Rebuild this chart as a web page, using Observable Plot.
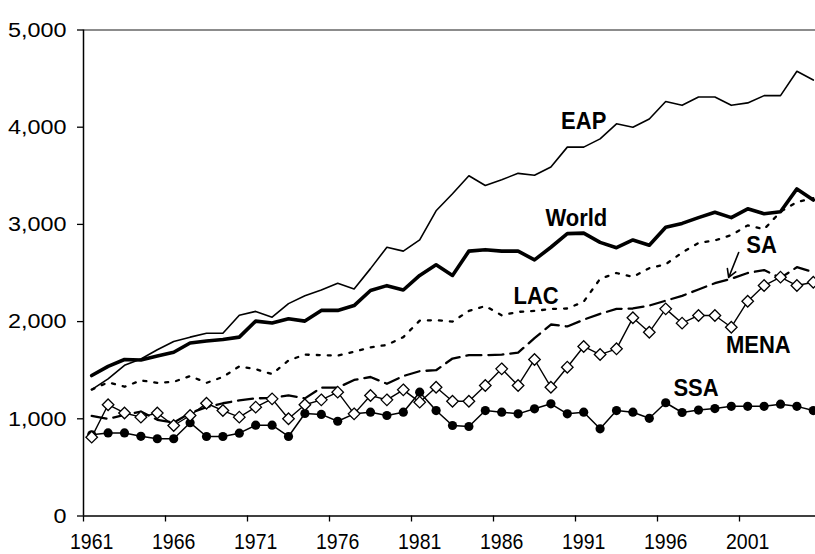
<!DOCTYPE html>
<html><head><meta charset="utf-8">
<script src="https://cdn.jsdelivr.net/npm/d3@7"></script>
<script src="https://cdn.jsdelivr.net/npm/@observablehq/plot@0.6"></script>
<style>html,body{margin:0;padding:0;background:#fff}#chart svg{display:block}</style>
</head><body><div id="chart"></div>
<script>
const years = [1961,1962,1963,1964,1965,1966,1967,1968,1969,1970,
  1971,1972,1973,1974,1975,1976,1977,1978,1979,1980,
  1981,1982,1983,1984,1985,1986,1987,1988,1989,1990,
  1991,1992,1993,1994,1995,1996,1997,1998,1999,2000,
  2001,2002,2003,2004,2005];
const eap = [1300,1410,1550,1615,1710,1795,1840,1880,1880,2065,
  2105,2045,2185,2265,2325,2395,2335,2545,2765,2725,
  2840,3140,3315,3500,3400,3460,3525,3505,3590,3795,
  3795,3880,4035,4000,4085,4265,4225,4310,4310,4225,
  4250,4325,4325,4575,4485];
const world = [1445,1540,1610,1605,1645,1685,1780,1800,1815,1840,
  2005,1985,2030,2005,2115,2115,2165,2320,2370,2325,
  2475,2585,2475,2725,2740,2725,2725,2635,2765,2905,
  2910,2815,2760,2840,2785,2970,3010,3070,3125,3070,
  3160,3110,3130,3365,3250];
const lac = [1300,1375,1330,1395,1370,1380,1440,1370,1430,1540,
  1510,1460,1600,1660,1655,1650,1690,1735,1760,1840,
  2010,2015,2000,2110,2160,2065,2100,2110,2130,2135,
  2205,2440,2500,2460,2550,2590,2710,2810,2835,2890,
  2990,2950,3130,3230,3270];
const sa = [1030,1000,1040,1075,990,960,1060,1120,1160,1190,
  1210,1215,1240,1210,1320,1320,1400,1430,1360,1440,
  1490,1500,1620,1655,1655,1660,1680,1830,1970,1950,
  2020,2080,2130,2135,2165,2215,2265,2330,2395,2440,
  2500,2530,2450,2560,2510];
const mena = [811,1145,1060,1017,1060,931,1034,1160,1085,1017,
  1120,1205,1000,1145,1195,1274,1051,1240,1195,1298,
  1171,1325,1181,1181,1343,1514,1343,1610,1325,1531,
  1744,1661,1720,2039,1891,2131,1984,2063,2063,1942,
  2210,2371,2457,2371,2405];
const ssa = [835,855,855,820,795,795,960,818,818,852,
  934,934,818,1055,1045,975,1051,1068,1034,1068,
  1274,1085,931,921,1085,1068,1051,1103,1154,1051,
  1068,897,1085,1068,1005,1165,1065,1090,1105,1128,
  1128,1128,1150,1128,1085];
const yTicks = [0,1000,2000,3000,4000,5000];
const xLabelYears = [1961,1966,1971,1976,1981,1986,1991,1996,2001];

// annotation placements (data units)
const seriesLabels = [
  {text:"EAP", year:1991.0, value:4060},
  {text:"World", year:1990.55, value:3060},
  {text:"LAC", year:1988.1, value:2258},
  {text:"SA", year:2001.85, value:2783},
  {text:"MENA", year:2001.65, value:1754},
  {text:"SSA", year:1997.85, value:1312}
];
const saArrow = [{x1:2000.45, y1:2711, x2:1999.84, y2:2454}];

const toRows = (vals) => years.map((y, i) => ({year: y, value: vals[i]}));
const font = "Liberation Sans, Arial, Helvetica, sans-serif";

const svg = Plot.plot({
  width: 815, height: 554,
  marginLeft: 83, marginRight: 0, marginTop: 29.5, marginBottom: 38.5,
  style: {fontFamily: font, background: "#fff", color: "#000"},
  x: {type: "linear", domain: [1960.5, 1960.5 + 732 / 16.4], label: null},
  y: {domain: [0, 5000], label: null},
  marks: [
    Plot.ruleY([5000], {stroke: "#8c8c8c", strokeWidth: 2}),
    Plot.axisY({ticks: yTicks, tickFormat: d3.format(","), tickSize: 6, tickPadding: 11, fontSize: 20, label: null, strokeWidth: 1.3, ariaLabel: "y-axis"}),
    Plot.axisX({ticks: xLabelYears.map(d => d - 0.5), tickFormat: () => "", tickSize: 6, label: null, strokeWidth: 1.3}),
    Plot.axisX({ticks: xLabelYears, tickFormat: d => String(d), tickSize: 0, tickPadding: 18, fontSize: 19.5, label: null}),
    Plot.ruleX([1960.5], {stroke: "#000", strokeWidth: 1.5}),
    Plot.ruleY([0], {stroke: "#000", strokeWidth: 1.5}),
    Plot.line(toRows(sa), {x: "year", y: "value", stroke: "#000", strokeWidth: 2.3, strokeDasharray: "15,7"}),
    Plot.line(toRows(lac), {x: "year", y: "value", stroke: "#000", strokeWidth: 2.3, strokeDasharray: "3,8"}),
    Plot.line(toRows(ssa), {x: "year", y: "value", stroke: "#000", strokeWidth: 1.5}),
    Plot.dot(toRows(ssa), {x: "year", y: "value", r: 4.6, fill: "#000", stroke: "none"}),
    Plot.line(toRows(mena), {x: "year", y: "value", stroke: "#000", strokeWidth: 1.4}),
    Plot.dot(toRows(mena), {x: "year", y: "value", symbol: "diamond2", r: 5.2, fill: "#fff", stroke: "#000", strokeWidth: 1.3}),
    Plot.line(toRows(eap), {x: "year", y: "value", stroke: "#000", strokeWidth: 1.6}),
    Plot.line(toRows(world), {x: "year", y: "value", stroke: "#000", strokeWidth: 3.6}),
    Plot.arrow(saArrow, {x1: "x1", y1: "y1", x2: "x2", y2: "y2", stroke: "#000", strokeWidth: 1.6, headLength: 9}),
    Plot.text(seriesLabels, {x: "year", y: "value", text: "text", fontSize: 22, fontWeight: "bold", textAnchor: "middle", lineAnchor: "middle", fill: "#000"})
  ]
});
d3.select(svg).selectAll("text").each(function () {
  const t = this.getAttribute("transform");
  const isY = this.parentNode && /y-axis/.test(this.parentNode.getAttribute("aria-label") || "");
  if (t) this.setAttribute("transform", t + (isY ? " scale(1.17,1.05)" : " scale(1,1.1)"));
});
document.getElementById("chart").appendChild(svg);
</script>
</body></html>
